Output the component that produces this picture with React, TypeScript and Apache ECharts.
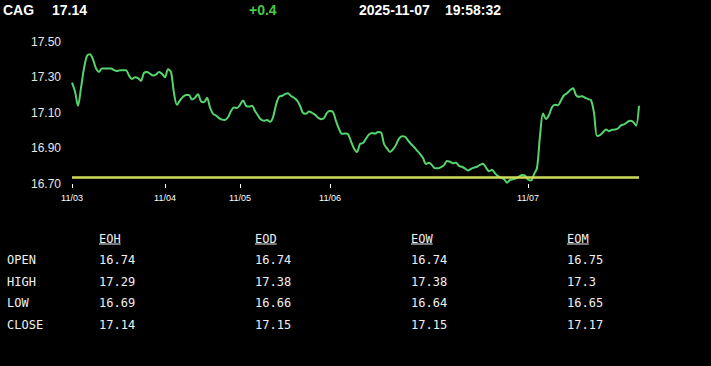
import React, { useEffect, useRef } from "react";
import * as echarts from "echarts";

// ---- data ----
const symbol = "CAG";
const lastPrice = "17.14";
const change = "+0.4";
const dateText = "2025-11-07";
const timeText = "19:58:32";

const dayLabels = ["11/03", "11/04", "11/05", "11/06", "11/07"];
const dayStartIndex = [0, 31, 56, 86, 152];

const prices = [
  17.27, 17.22, 17.14, 17.24, 17.35, 17.42, 17.43, 17.40, 17.35, 17.33,
  17.35, 17.35, 17.35, 17.35, 17.34, 17.335, 17.34, 17.34, 17.34, 17.31,
  17.29, 17.30, 17.295, 17.28, 17.325, 17.33, 17.32, 17.31, 17.315, 17.33,
  17.32, 17.30, 17.345, 17.33, 17.21, 17.145, 17.17, 17.19, 17.20, 17.20,
  17.175, 17.185, 17.205, 17.165, 17.16, 17.185, 17.13, 17.095, 17.085, 17.07,
  17.062, 17.06, 17.075, 17.11, 17.13, 17.127, 17.145, 17.17, 17.14, 17.135,
  17.14, 17.11, 17.085, 17.062, 17.055, 17.06, 17.05, 17.075, 17.145, 17.19,
  17.196, 17.205, 17.21, 17.195, 17.185, 17.17, 17.14, 17.10, 17.095, 17.108,
  17.10, 17.09, 17.073, 17.064, 17.07, 17.10, 17.11, 17.105, 17.054, 17.01,
  16.982, 16.984, 16.98, 16.94, 16.90, 16.88, 16.925, 16.93, 16.955, 16.978,
  16.987, 16.983, 16.992, 16.99, 16.925, 16.90, 16.88, 16.895, 16.92, 16.955,
  16.968, 16.966, 16.945, 16.925, 16.908, 16.888, 16.87, 16.846, 16.813, 16.82,
  16.806, 16.788, 16.788, 16.795, 16.806, 16.83, 16.825, 16.817, 16.82, 16.802,
  16.797, 16.787, 16.776, 16.785, 16.792, 16.797, 16.807, 16.814, 16.792, 16.772,
  16.78, 16.76, 16.744, 16.736, 16.728, 16.707, 16.723, 16.727, 16.732, 16.742,
  16.75, 16.747, 16.725, 16.72, 16.755, 16.79, 16.97, 17.097, 17.066, 17.088,
  17.132, 17.146, 17.143, 17.17, 17.199, 17.21, 17.227, 17.238, 17.20, 17.19,
  17.193, 17.185, 17.177, 17.172, 17.10, 16.97, 16.975, 16.99, 17.007, 16.997,
  17.005, 17.006, 17.012, 17.03, 17.035, 17.047, 17.055, 17.05, 17.028, 17.14,
];

const yTicks = [16.7, 16.9, 17.1, 17.3, 17.5];

const rowLabels = ["OPEN", "HIGH", "LOW", "CLOSE"];
const colHeaders = ["EOH", "EOD", "EOW", "EOM"];
const eohValues = [16.74, 17.29, 16.69, 17.14];
const eodValues = [16.74, 17.38, 16.66, 17.15];
const eowValues = [16.74, 17.38, 16.64, 17.15];
const eomValues = [16.75, 17.3, 16.65, 17.17];
const tableColumns = [eohValues, eodValues, eowValues, eomValues];

const openPrice = eohValues[0];

export default function App() {
  const ref = useRef<HTMLDivElement>(null);

  useEffect(() => {
    if (!ref.current) return;
    const chart = echarts.init(ref.current, undefined, { renderer: "svg" });

    const categories = prices.map((_, i) => {
      const k = dayStartIndex.indexOf(i);
      return k >= 0 ? dayLabels[k] : "";
    });
    const isDayStart = (i: number) => dayStartIndex.includes(i);

    const sans = '"Liberation Sans", Arial, sans-serif';
    const mono = '"DejaVu Sans Mono", "Liberation Mono", monospace';

    const graphics: any[] = [];
    const headerFont = `bold 14px ${sans}`;
    graphics.push(
      { type: "text", x: 3, y: 10, style: { text: symbol, fill: "#ffffff", font: headerFont, verticalAlign: "middle" } },
      { type: "text", x: 52, y: 10, style: { text: lastPrice, fill: "#ffffff", font: headerFont, verticalAlign: "middle" } },
      { type: "text", x: 249, y: 10, style: { text: change, fill: "#46c846", font: headerFont, verticalAlign: "middle" } },
      { type: "text", x: 359, y: 10, style: { text: dateText, fill: "#ffffff", font: headerFont, verticalAlign: "middle" } },
      { type: "text", x: 445, y: 10, style: { text: timeText, fill: "#ffffff", font: headerFont, verticalAlign: "middle" } }
    );

    const tableFont = `12px ${mono}`;
    const colX = [99, 255, 411, 567];
    const rowY = [260, 281.5, 303, 324.5];
    const headY = 238.5;
    colHeaders.forEach((h, c) => {
      graphics.push({ type: "text", x: colX[c], y: headY, style: { text: h, fill: "#f0f0f0", font: tableFont, verticalAlign: "middle" } });
      graphics.push({ type: "line", shape: { x1: colX[c], y1: 244, x2: colX[c] + h.length * 7.22, y2: 244 }, style: { stroke: "#f0f0f0", lineWidth: 1 } });
    });
    rowLabels.forEach((r, ri) => {
      graphics.push({ type: "text", x: 7, y: rowY[ri], style: { text: r, fill: "#f0f0f0", font: tableFont, verticalAlign: "middle" } });
      tableColumns.forEach((col, c) => {
        graphics.push({ type: "text", x: colX[c], y: rowY[ri], style: { text: String(col[ri]), fill: "#f0f0f0", font: tableFont, verticalAlign: "middle" } });
      });
    });

    chart.setOption({
      animation: false,
      backgroundColor: "#000000",
      grid: { left: 72, right: 72, top: 41.7, bottom: 182 },
      xAxis: {
        type: "category",
        data: categories,
        boundaryGap: false,
        axisLine: { show: false },
        axisTick: { show: true, interval: (i: number) => isDayStart(i), length: 4, lineStyle: { color: "#ffffff", width: 1 } },
        axisLabel: { interval: (i: number) => isDayStart(i), color: "#ffffff", fontSize: 9, fontFamily: sans, margin: 9 },
        splitLine: { show: false },
      },
      yAxis: {
        type: "value",
        min: 16.7,
        max: 17.5,
        axisLine: { show: false },
        axisTick: { show: false },
        splitLine: { show: false },
        axisLabel: {
          customValues: yTicks,
          color: "#e6e6e6",
          fontSize: 12,
          fontFamily: sans,
          margin: 11,
          formatter: (v: number) => v.toFixed(2),
        },
      },
      series: [
        {
          type: "line",
          data: prices,
          symbol: "none",
          smooth: 0.3,
          lineStyle: { color: "#55d46e", width: 2 },
          markLine: {
            silent: true,
            symbol: ["none", "none"],
            label: { show: false },
            lineStyle: { color: "#cfdc5a", width: 2.5, type: "solid" },
            data: [{ yAxis: openPrice }],
          },
        },
      ],
      graphic: graphics,
    });

    return () => chart.dispose();
  }, []);

  return (
    <div
      ref={ref}
      style={{ position: "fixed", left: 0, top: 0, width: 711, height: 366, background: "#000" }}
    />
  );
}
